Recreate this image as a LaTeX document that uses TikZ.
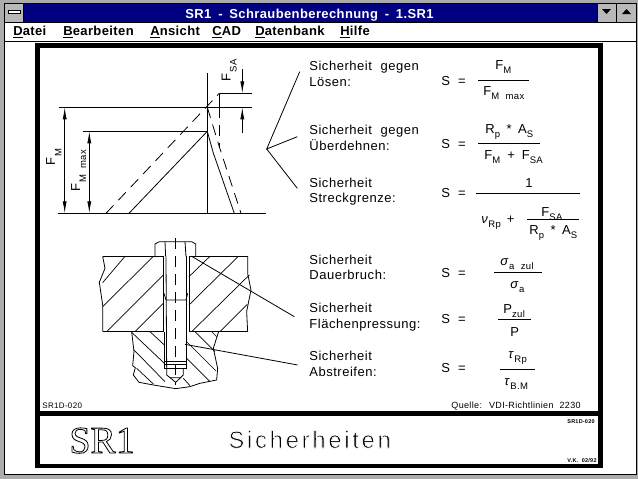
\documentclass[tikz,border=0pt]{standalone}
\usepackage{fontspec}
\setmainfont[LetterSpace=4,WordSpace=2.1]{Liberation Sans}
\newfontfamily\menufont[LetterSpace=3,WordSpace=1.7]{Liberation Sans}
\newfontfamily\bigfont[LetterSpace=11]{Liberation Sans}
\newfontfamily\logofont{Liberation Serif}
\usetikzlibrary{arrows.meta, positioning, calc}

\definecolor{titlenavy}{RGB}{0,0,128}
\newcommand{\tief}[1]{\raisebox{-4pt}{\fontsize{9.5}{10}\selectfont #1}}

\begin{document}
\begin{tikzpicture}
            [x=1pt, y=-1pt, line width=0.8pt, >={Latex[length=12pt,width=4pt]},
            lbl/.style={anchor=base west, inner sep=0pt, font=\fontsize{13}{15}\selectfont},
            menu/.style={anchor=base west, inner sep=0pt, font=\menufont\bfseries\fontsize{13}{15}\selectfont},
            sidelbl/.style={anchor=base west, inner sep=0pt, rotate=90, font=\fontsize{13}{15}\selectfont},
            winzig/.style={anchor=base west, inner sep=0pt, font=\bfseries\fontsize{5.5}{6}\selectfont},
            strich/.style={dash pattern=on 11pt off 7pt},
            hatch/.style={line width=0.7pt}]

            \useasboundingbox (0,0) rectangle (638,479);

            % window
            \fill[gray!65] (0,0) rectangle (638,479);
            \draw[fill=white] (4.5,3) rectangle (636,474);
            \fill[titlenavy] (24,3.5) rectangle (597,22);
            \draw (4.5,22.5) -- (636,22.5);
            \draw (4.5,41.5) -- (636,41.5);
            \draw[fill=gray!55] (4.5,3) rectangle (23.5,22.5);
            \draw[fill=white] (8,10.5) rectangle (20,13.5);
            \draw[fill=gray!55] (597,3) rectangle (616,22.5);
            \draw[fill=gray!55] (616.5,3) rectangle (636,22.5);
            \fill (602,9) -- (611,9) -- (606.5,14) -- cycle;
            \fill (622,14) -- (631,14) -- (626.5,9) -- cycle;

            \node[menu, text=white, anchor=base] (title) at (309.5,18) {SR1 - Schraubenberechnung - 1.SR1};
            \node[menu] (datei) at (13,35.5) {\underline{D}atei};
            \node[menu] (bearb) at (63,35.5) {\underline{B}earbeiten};
            \node[menu] (ansicht) at (150,35.5) {\underline{A}nsicht};
            \node[menu] (cad) at (212,35.5) {\underline{C}AD};
            \node[menu] (dbank) at (255,35.5) {\underline{D}atenbank};
            \node[menu] (hilfe) at (340,35.5) {\underline{H}ilfe};

            % sheet frame
            \draw[line width=4.6pt] (37.5,45.5) rectangle (600.5,466);
            \draw[line width=4.6pt] (37.5,413.5) -- (600.5,413.5);

            % load diagram
            \draw (59,107.3) -- (252,107.3);
            \draw (83,131.3) -- (207.3,131.3);
            \draw (58,213.3) -- (266,213.3);
            \draw (207.3,73) -- (207.3,213.3);
            \draw (219.3,93.3) -- (252,93.3);
            \draw (219.3,93.3) -- (219.3,107.3);
            \draw[strich] (219.3,107.3) -- (219.3,146.7);
            \draw (129,213.3) -- (207.3,131.3);
            \draw (207.3,131.3) -- (213.3,153) -- (234.3,213.3);
            \draw[strich] (106,213.3) -- (219.3,93.3);
            \draw[strich] (207.3,107.3) -- (219.3,146.7) -- (241,213.3);

            % dimension arrows
            \draw[<->] (64.7,107.3) -- (64.7,213.3);
            \draw[<->] (89.3,131.3) -- (89.3,213.3);
            \draw[->] (242.3,69) -- (242.3,93.3);
            \draw[->] (242.3,132.7) -- (242.3,107.3);

            \node[sidelbl] (fm) at (55,165.7) {F};
            \node[sidelbl, font=\fontsize{9.5}{10}\selectfont] (fmsub) at (61.7,157) {M};
            \node[sidelbl] (fmm) at (80,191.7) {F};
            \node[sidelbl, font=\fontsize{9.5}{10}\selectfont] (fmmsub) at (86,183) {M max};
            \node[sidelbl] (fsa) at (230.7,81.7) {F};
            \node[sidelbl, font=\fontsize{9.5}{10}\selectfont] (fsasub) at (236.7,73) {SA};

            % fork leader
            \coordinate (fork) at (266.7,149);
            \coordinate (fork1) at (299.7,71.7);
            \coordinate (fork2) at (297.3,136.7);
            \coordinate (fork3) at (297.3,188.3);
            \draw (fork1) -- (fork) -- (fork2);
            \draw (fork) -- (fork3);

            % screw joint, in 3x units of its own
            \begin{scope}[shift={(90,235)}, x=0.3333pt, y=-0.3333pt]
              % upper plate
              \draw (38,64) -- (222,64);
              \draw (297,64) -- (473,64);
              \draw (38,290) -- (222,290);
              \draw (297,290) -- (473,290);
              \draw (38,64) -- (45,100) -- (28,142) -- (38,210) -- (38,290);
              \draw (473,64) -- (473,115) -- (483,165) -- (470,230) -- (473,290);
              \draw[hatch] (38,143) -- (105,64);
              \draw[hatch] (38,215) -- (190,64);
              \draw[hatch] (50,290) -- (220,120);
              \draw[hatch] (135,290) -- (220,205);
              \draw[hatch] (297,125) -- (360,64);
              \draw[hatch] (297,210) -- (445,64);
              \draw[hatch] (305,290) -- (478,120);
              \draw[hatch] (390,290) -- (472,208);
              % lower plate
              \draw (125,290) -- (132,350) -- (128,392) -- (136,398) -- (130,420) -- (147,442) -- (190,450)
                    -- (257,461) -- (300,455) -- (330,445) -- (380,435) -- (383,400) -- (370,340) -- (386,290);
              \draw[hatch] (125,292) -- (223,385);
              \draw[hatch] (180,290) -- (223,330);
              \draw[hatch] (132,345) -- (225,440);
              \draw[hatch] (140,400) -- (190,447);
              \draw[hatch] (280,430) -- (300,452);
              \draw[hatch] (288,318) -- (378,408);
              \draw[hatch] (288,368) -- (360,440);
              \draw[hatch] (315,290) -- (375,350);
              \draw[hatch] (365,290) -- (380,305);
              % head
              \draw (195,64) -- (195,27) -- (208,20) -- (305,20) -- (317,27) -- (317,64);
              \draw (225,20) -- (227,64);
              \draw (285,20) -- (288,64);
              % hole and shank
              \draw[line width=1.3pt] (220,64) -- (220,290);
              \draw (297,64) -- (297,290);
              \draw (228,64) -- (230,400);
              \draw (288,64) -- (288,380);
              \draw (222,175) -- (228,195) -- (288,195) -- (293,175);
              \draw (223,290) -- (223,400) -- (288,400) -- (288,380);
              \draw (223,380) -- (288,380);
              \draw (223,388) -- (288,388);
              \draw (230,400) -- (230,420) -- (240,428) -- (272,428) -- (280,420) -- (280,400);
              \draw (240,428) -- (257,442) -- (272,428);
              \draw[strich] (257,10) -- (257,450);
              % leaders
              \draw (305,64) -- (613,245);
              \draw (285,328) -- (623,390);
            \end{scope}

            % texts, first group
            \node[lbl] (a1) at (309,70) {Sicherheit gegen};
            \node[lbl] (a2) at (309,86) {Lösen:};
            \node[lbl] (b1) at (309,134) {Sicherheit gegen};
            \node[lbl] (b2) at (309,150) {Überdehnen:};
            \node[lbl] (c1) at (309,187) {Sicherheit};
            \node[lbl] (c2) at (309,202) {Streckgrenze:};
            \node[lbl] (d1) at (309,264) {Sicherheit};
            \node[lbl] (d2) at (309,279) {Dauerbruch:};
            \node[lbl] (e1) at (309,312) {Sicherheit};
            \node[lbl] (e2) at (309,328) {Flächenpressung:};
            \node[lbl] (f1) at (309,360) {Sicherheit};
            \node[lbl] (f2) at (309,376) {Abstreifen:};

            % formulas
            \node[lbl] (s1) at (441,85) {S\hspace{8pt}=};
            \node[lbl] (s2) at (441,148) {S\hspace{8pt}=};
            \node[lbl] (s3) at (441,197) {S\hspace{8pt}=};
            \node[lbl] (s4) at (441,277) {S\hspace{8pt}=};
            \node[lbl] (s5) at (441,323) {S\hspace{8pt}=};
            \node[lbl] (s6) at (441,372) {S\hspace{8pt}=};

            \draw (478,80) -- (529,80);
            \node[lbl] (n1) at (495,69) {F\tief{M}};
            \node[lbl] (m1) at (483,95) {F\tief{M max}};

            \draw (478,143.3) -- (540,143.3);
            \node[lbl] (n2) at (485,133) {R\tief{p}\hspace{6.5pt}*\hspace{6.5pt}A\tief{S}};
            \node[lbl] (m2) at (484,159) {F\tief{M}\hspace{7pt}+\hspace{7pt}F\tief{SA}};

            \draw (476,193) -- (580,193);
            \node[lbl] (n3) at (525,187) {1};
            \node[lbl] (m3) at (481,223) {\textit{ν}\tief{Rp}\hspace{6pt}+};
            \draw (527,219.3) -- (579,219.3);
            \node[lbl] (n3b) at (541,216) {F\tief{SA}};
            \node[lbl] (m3b) at (529,234) {R\tief{p}\hspace{6.5pt}*\hspace{6.5pt}A\tief{S}};

            \draw (494,272.3) -- (542,272.3);
            \node[lbl] (n4) at (500,265) {\textit{σ}\tief{a zul}};
            \node[lbl] (m4) at (510,288) {\textit{σ}\tief{a}};

            \draw (498,319.3) -- (531,319.3);
            \node[lbl] (n5) at (503,313) {P\tief{zul}};
            \node[lbl] (m5) at (510,336) {P};

            \draw (500,369.3) -- (535,369.3);
            \node[lbl] (n6) at (508,358) {\textit{τ}\tief{Rp}};
            \node[lbl] (m6) at (504,385) {\textit{τ}\tief{B.M}};

            % sheet footer
            \node[lbl, font=\fontsize{8}{9}\selectfont] (code) at (42,408) {SR1D-020};
            \node[lbl, font=\fontsize{9}{10}\selectfont] (quelle) at (451,408) {Quelle: VDI-Richtlinien 2230};
            \node[lbl, font=\logofont\fontsize{38}{40}\selectfont] (logo) at (69,453)
              {\special{pdf:code 1 Tr 0.8 w}SR1\special{pdf:code 0 Tr}};
            % white stroke thins the letters
            \node[lbl, font=\bigfont\fontsize{24}{28}\selectfont] (subject) at (228,448)
              {\special{pdf:code 2 Tr 0.7 w 1 1 1 RG}Sicherheiten\special{pdf:code 0 Tr 0 0 0 RG}};
            \node[winzig] (codeb) at (567,423) {SR1D-020};
            \node[winzig] (datum) at (567,462) {V.K. 02/92};

          \end{tikzpicture}
\end{document}
